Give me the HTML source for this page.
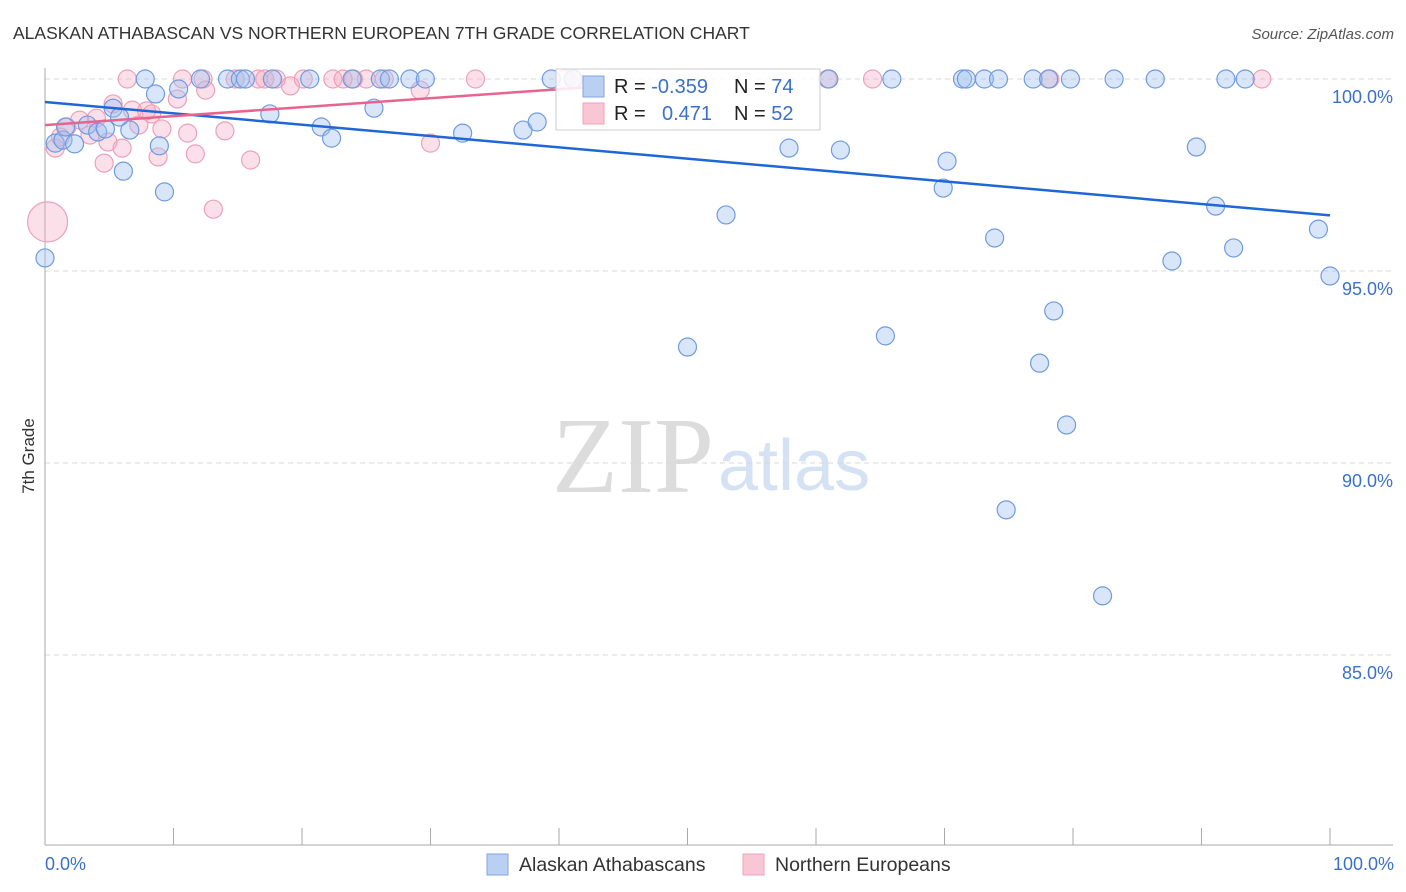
<!DOCTYPE html>
<html><head><meta charset="utf-8"><style>
body{margin:0;background:#fff;font-family:"Liberation Sans",sans-serif;}
#wrap{position:relative;width:1406px;height:892px;overflow:hidden;}
</style></head><body>
<div id="wrap">
<svg id="svg" width="1406" height="892" xmlns="http://www.w3.org/2000/svg">
<text x="13" y="39" font-size="17.5" fill="#333">ALASKAN ATHABASCAN VS NORTHERN EUROPEAN 7TH GRADE CORRELATION CHART</text>
<text x="1394" y="39" font-size="15" fill="#555" font-style="italic" text-anchor="end">Source: ZipAtlas.com</text>
<text x="552" y="492" font-size="108" fill="#dcdcdc" font-family="Liberation Serif, serif">ZIP</text>
<text x="718" y="490" font-size="72" fill="#d5e2f3">atlas</text>
<text x="34" y="456" font-size="17" fill="#333" transform="rotate(-90 34 456)" text-anchor="middle">7th Grade</text>
<g id="grid"></g><g id="marks"></g><g id="trend"></g>
<g>
<rect x="556" y="69" width="264" height="61" fill="#fff" fill-opacity="0.85" stroke="#ccc"/>
<rect x="583" y="76" width="21" height="21" fill="#b9d0f3" stroke="#7fa5e3"/>
<rect x="583" y="103" width="21" height="21" fill="#f9c6d6" stroke="#efa3bb"/>
<text x="614" y="93" font-size="20" fill="#222">R = <tspan fill="#3a70cc">-0.359</tspan></text>
<text x="734" y="93" font-size="20" fill="#222">N = <tspan fill="#3a70cc">74</tspan></text>
<text x="614" y="120" font-size="20" fill="#222">R = <tspan fill="#3a70cc" x="662">0.471</tspan></text>
<text x="734" y="120" font-size="20" fill="#222">N = <tspan fill="#3a70cc">52</tspan></text>
</g>
<g>
<rect x="487" y="854" width="21" height="21" fill="#b9d0f3" stroke="#7fa5e3"/>
<text x="519" y="871" font-size="19.5" fill="#333">Alaskan Athabascans</text>
<rect x="743" y="854" width="21" height="21" fill="#f9c6d6" stroke="#efa3bb"/>
<text x="775" y="871" font-size="19.5" fill="#333">Northern Europeans</text>
</g>
<text x="45" y="870" font-size="18" fill="#3a70cc">0.0%</text>
<text x="1394" y="870" font-size="18" fill="#3a70cc" text-anchor="end">100.0%</text>
</svg>
</div>
<script>
const yTicks=[100,95,90,85];
const yTickLabels=["100.0%","95.0%","90.0%","85.0%"];
const xTicks=[0,10,20,30,40,50,60,70,80,90,100];
const blueX=[0,0.8,1.4,1.6,2.3,3.3,4.1,4.7,5.3,5.8,6.1,6.6,7.8,8.6,8.9,9.3,10.4,12.1,14.2,15.2,15.6,17.5,17.7,20.6,21.5,22.3,23.9,25.6,26.1,26.8,28.4,29.6,32.5,37.2,38.3,39.4,41.1,50.0,53.0,57.9,61.0,61.9,65.4,65.9,69.9,70.2,71.4,71.7,73.1,73.9,74.2,74.8,76.9,77.4,78.1,78.5,79.5,79.8,82.3,83.2,86.4,87.7,89.6,91.1,91.9,92.5,93.4,99.1,100];
const blueY=[95.34,98.33,98.41,98.75,98.31,98.80,98.62,98.70,99.24,99.01,97.60,98.67,100,99.61,98.26,97.06,99.74,100,100,100,100,99.09,100,100,98.75,98.46,100,99.24,100,100,100,100,98.59,98.67,98.88,100,100,93.02,96.46,98.20,100,98.15,93.31,100,97.16,97.86,100,100,100,95.86,100,88.78,100,92.60,100,93.96,90.99,100,86.54,100,100,95.26,98.23,96.69,100,95.60,100,96.09,94.87];
const pinkX=[0.2,0.8,1.2,1.7,2.7,3.5,4.0,4.6,4.9,5.3,6.0,6.4,6.8,7.3,7.9,8.3,8.8,9.1,10.3,10.7,11.1,11.7,12.3,12.5,13.1,14.0,14.8,16.0,16.6,17.1,18.0,19.1,20.1,22.4,23.2,24.0,25.0,26.4,29.2,30.0,33.5,40.5,41.2,60.9,64.4,78.2,94.7];
const pinkY=[96.28,98.20,98.49,98.75,98.93,98.54,98.98,97.81,98.36,99.35,98.20,100,99.19,98.80,99.17,99.09,97.97,98.70,99.48,100,98.59,98.05,100,99.71,96.61,98.65,100,97.89,100,100,100,99.82,100,100,100,100,100,100,99.71,98.33,100,100,100,100,100,100,100];
const blueTrendX=[0,100], blueTrendY=[99.4,96.45];
const pinkTrendX=[0,42], pinkTrendY=[98.8,99.78];
const NS="http://www.w3.org/2000/svg";
const X=v=>45+v*12.85, Y=v=>79+(100-v)*38.4;
function mk(t,a,p){const e=document.createElementNS(NS,t);for(const k in a)e.setAttribute(k,a[k]);p.appendChild(e);return e;}
const grid=document.getElementById('grid'),marks=document.getElementById('marks'),trend=document.getElementById('trend');
yTicks.forEach((t,i)=>{
 const l=mk('line',{x1:45,x2:1393,y1:Y(t),y2:Y(t),stroke:'#d8d8d8','stroke-dasharray':'5,4'},grid);
 
 
 const tx=mk('text',{x:1393,y:Y(t)+24,'font-size':18,fill:'#3a70cc','text-anchor':'end'},grid);
 tx.textContent=yTickLabels[i];
 
 
});
const ax=mk('line',{x1:45,x2:45,y1:68,y2:845,stroke:'#aaa'},grid);


const bx=mk('line',{x1:45,x2:1393,y1:845,y2:845,stroke:'#aaa'},grid);


xTicks.forEach(t=>{
 const l=mk('line',{x1:X(t),x2:X(t),y1:828,y2:845,stroke:'#aaa'},grid);
 
 
});
pinkX.forEach((v,i)=>{
 const c=mk('circle',{cx:X(v),cy:Y(pinkY[i]),r:i===0?20:9,fill:'rgba(245,165,192,0.35)',stroke:'#eea0b8','stroke-width':1.2},marks);
 
 
});
blueX.forEach((v,i)=>{
 const c=mk('circle',{cx:X(v),cy:Y(blueY[i]),r:9,fill:'rgba(160,192,240,0.4)',stroke:'#6f9be0','stroke-width':1.2},marks);
 
 
});
const bl=mk('line',{x1:X(blueTrendX[0]),y1:Y(blueTrendY[0]),x2:X(blueTrendX[1]),y2:Y(blueTrendY[1]),stroke:'#1f66d6','stroke-width':2.5},trend);


const pl=mk('line',{x1:X(pinkTrendX[0]),y1:Y(pinkTrendY[0]),x2:X(pinkTrendX[1]),y2:Y(pinkTrendY[1]),stroke:'#e8648f','stroke-width':2.5},trend);


</script>
</body></html>
